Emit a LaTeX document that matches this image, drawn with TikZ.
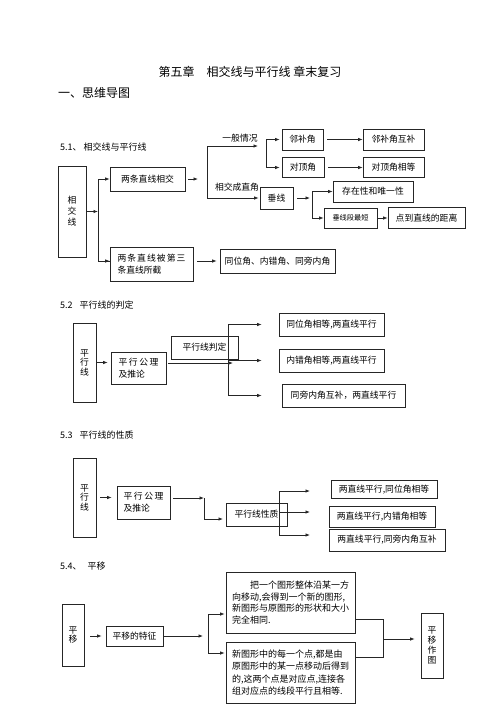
\documentclass[tikz,border=0pt]{standalone}
\usepackage{fontspec}
\setmainfont{Noto Sans CJK SC}
\usetikzlibrary{arrows.meta}
\begin{document}
\begin{tikzpicture}[x=1pt,y=-1pt,
 box/.style={draw=black!85, line width=0.75pt, inner sep=0pt, align=center, font=\fontsize{8.8}{12}\selectfont},
 vbox/.style={box, font=\fontsize{8.8}{10}\selectfont},
 arr/.style={draw=black!85, line width=0.75pt, -{Latex[length=4.5pt,width=3.5pt]}},
 ln/.style={draw=black!85, line width=0.75pt},
 sec/.style={anchor=west, inner sep=0pt, font=\fontsize{9}{10}\selectfont},
 lab/.style={inner sep=0pt, font=\fontsize{8.8}{10}\selectfont}]
\fill[white] (0,0) rectangle (500,707);
\useasboundingbox (0,0) rectangle (500,707);

% headings
\node[inner sep=0pt, font=\fontsize{12}{14}\selectfont] (title) at (250,72) {第五章\quad 相交线与平行线 章末复习};
\node[anchor=west, inner sep=0pt, font=\fontsize{12}{14}\selectfont] (h1) at (58,93) {一、思维导图};

% ===== 5.1 =====
\node[sec] (t51) at (60,147) {5.1、\hspace{2pt}相交线与平行线};
\node[vbox, font=\fontsize{8.8}{11}\selectfont, minimum width=28pt, minimum height=91pt] (xjx) at (72,211.5) {相\\交\\线};
\node[box, minimum width=75pt, minimum height=24pt] (lx) at (147.5,179) {两条直线相交};
\node[box, align=left, minimum width=83pt, minimum height=34pt] (jzx) at (151.5,264) {\makebox[68pt]{两\hfill 条\hfill 直\hfill 线\hfill 被\hfill 第\hfill 三}\\条直线所截};
\node[box, minimum width=115pt, minimum height=24pt] (tw) at (277.5,261) {同位角、内错角、同旁内角};
\node[box, minimum width=41pt, minimum height=21pt] (lbj) at (302.5,139.5) {邻补角};
\node[box, minimum width=42pt, minimum height=20pt] (dd) at (303,167.5) {对顶角};
\node[box, minimum width=61pt, minimum height=21pt] (lbjhb) at (393.5,139.5) {邻补角互补};
\node[box, minimum width=61pt, minimum height=20pt] (ddjxd) at (393.5,167.5) {对顶角相等};
\node[box, minimum width=33pt, minimum height=22pt] (cx) at (276.5,198) {垂线};
\node[box, minimum width=80pt, minimum height=21pt] (czx) at (373,191.5) {存在性和唯一性};
\node[box, font=\fontsize{7.2}{9}\selectfont, minimum width=53pt, minimum height=20pt] (cxd) at (350.5,218) {垂线段最短};
\node[box, minimum width=77pt, minimum height=21pt] (dzx) at (426.5,218) {点到直线的距离};
\node[lab] (l1) at (240,138) {一般情况};
\node[lab] (l2) at (237,187) {相交成直角};

\coordinate (b1) at (98,211.5);
\draw[arr] (xjx.east) -- (b1);
\draw[arr] (b1) |- (lx.west);
\draw[arr] (b1) |- (jzx.west |- tw.west);
\draw[ln] (b1) |- (jzx.west |- tw.west);
\coordinate (a1) at (198,179);
\draw[arr, shorten <=3pt] (lx.east) -- (a1);
\coordinate (v1t) at (207,146);
\coordinate (g1) at (258,146);
\coordinate (v1b) at (207,198);
\draw[ln] (v1t) -- (v1b);
\draw[arr] (v1t) -- (g1);
\draw[arr, shorten >=1pt] (v1b) -- (cx.west);
\coordinate (v2) at (266,139.5);
\draw[arr, shorten >=2pt] (v2) -- (lbj.west);
\draw[arr, shorten >=2pt] (v2) |- (dd.west);
\draw[arr, shorten <=4pt] (lbj.east) -- (lbjhb.west);
\draw[arr, shorten <=4pt] (dd.east) -- (ddjxd.west);
\coordinate (a2) at (310,198);
\draw[arr, shorten <=4pt] (cx.east) -- (a2);
\coordinate (v3) at (312,191.5);
\draw[arr] (v3) -- (czx.west);
\draw[arr] (v3) |- (cxd.west);
\draw[arr] (cxd.east) -- (dzx.west);
\draw[arr, shorten <=4pt, shorten >=3pt] (jzx.east |- tw.west) -- (tw.west);

% ===== 5.2 =====
\node[sec] (t52) at (60,305) {5.2\hspace{7pt}平行线的判定};
\node[vbox, font=\fontsize{8.8}{9.5}\selectfont, minimum width=23pt, minimum height=79pt] (pxx2) at (84.5,362.5) {平\\行\\线};
\node[box, align=left, minimum width=55pt, minimum height=32pt] (pxgl2) at (138.5,368) {\makebox[40pt]{平\hfill 行\hfill 公\hfill 理}\\及推论};
\node[box, minimum width=67pt, minimum height=23pt] (pxpd) at (204.5,347.5) {平行线判定};
\node[box, minimum width=105pt, minimum height=23pt] (p1) at (331.5,324.5) {同位角相等,两直线平行};
\node[box, minimum width=105pt, minimum height=23pt] (p2) at (331.5,360.5) {内错角相等,两直线平行};
\node[box, minimum width=123pt, minimum height=23pt] (p3) at (343.5,395.5) {同旁内角互补，两直线平行};

\draw[arr, shorten <=1pt, shorten >=3pt] (pxx2.east) -- (pxx2.east -| pxgl2.west);
\coordinate (r) at (233,363);
\draw[arr, shorten <=2pt] (pxgl2.east |- r) -- (r);
\coordinate (q) at (228,324.5);
\draw[arr, shorten >=17pt] (q) -- (p1.west);
\draw[arr, shorten >=17pt] (q) |- (p2.west);
\draw[arr, shorten >=20pt] (q) |- (p3.west);

% ===== 5.3 =====
\node[sec] (t53) at (60,435) {5.3\hspace{7pt}平行线的性质};
\node[vbox, font=\fontsize{8.8}{9.5}\selectfont, minimum width=23pt, minimum height=79pt] (pxx3) at (84.5,497.5) {平\\行\\线};
\node[box, align=left, minimum width=53pt, minimum height=33pt] (pxgl3) at (143.5,502.5) {\makebox[40pt]{平\hfill 行\hfill 公\hfill 理}\\及推论};
\node[box, minimum width=61pt, minimum height=23pt] (pxxz) at (256.5,514.5) {平行线性质};
\node[box, minimum width=106pt, minimum height=18pt] (h1b) at (384,489.5) {两直线平行,同位角相等};
\node[box, minimum width=106pt, minimum height=21pt] (h2b) at (382,516.5) {两直线平行,内错角相等};
\node[box, minimum width=116pt, minimum height=22pt] (h3b) at (387,540) {两直线平行,同旁内角互补};

\draw[arr, shorten <=4pt, shorten >=5pt] (pxx3.east) -- (pxx3.east -| pxgl3.west);
\coordinate (s1) at (204,498);
\coordinate (s2) at (223,519);
\draw[arr, shorten <=3pt] (pxgl3.east |- s1) -- (s1);
\draw[arr] (s1) |- (s2);
\coordinate (w1) at (279,491);
\coordinate (w2) at (279,512);
\coordinate (w3) at (279,535);
\coordinate (u1) at (310,491);
\coordinate (u2) at (310,512);
\coordinate (u3) at (310,535);
\draw[ln] (w1) -- (w3);
\draw[arr] (w1) -- (u1);
\draw[arr] (w2) -- (u2);
\draw[arr] (w3) -- (u3);

% ===== 5.4 =====
\node[sec] (t54) at (60,566) {5.4、\hspace{6pt}平移};
\node[vbox, font=\fontsize{8.8}{9.5}\selectfont, minimum width=22pt, minimum height=62pt] (py) at (73,635) {平\\移};
\node[box, minimum width=57pt, minimum height=20pt] (pytz) at (134.5,636) {平移的特征};
\node[box, align=left, font=\fontsize{9}{11.5}\selectfont, minimum width=129pt, minimum height=61pt] (bx1) at (290.5,602.5) {\hspace*{18pt}把一个图形整体沿某一方\\向移动,会得到一个新的图形,\\新图形与原图形的形状和大小\\完全相同.};
\node[box, align=left, font=\fontsize{9}{12.5}\selectfont, minimum width=129pt, minimum height=61pt] (bx2) at (290.5,672.5) {新图形中的每一个点,都是由\\原图形中的某一点移动后得到\\的,这两个点是对应点,连接各\\组对应点的线段平行且相等.};
\node[vbox, font=\fontsize{8.8}{10}\selectfont, minimum width=22pt, minimum height=65pt] (pyzt) at (432,645.5) {平\\移\\作\\图};

\draw[arr, shorten <=6pt, shorten >=4pt] (py.east |- pytz.west) -- (pytz.west);
\coordinate (m1) at (203,636);
\draw[arr] (pytz.east) -- (m1);
\coordinate (vt) at (208,614);
\coordinate (vb) at (208,653);
\draw[ln] (vt) -- (vb);
\draw[arr, shorten >=1pt] (vt) -- (vt -| bx1.west);
\draw[arr, shorten >=1pt] (vb) -- (vb -| bx2.west);
\coordinate (k1) at (383,619);
\coordinate (k2) at (383,657);
\coordinate (k) at (383,639);
\draw[ln] (bx1.east |- k1) -- (k1) -- (k2) -- (bx2.east |- k2);
\draw[arr, shorten >=6pt] (k) -- (k -| pyzt.west);
\end{tikzpicture}
\end{document}
